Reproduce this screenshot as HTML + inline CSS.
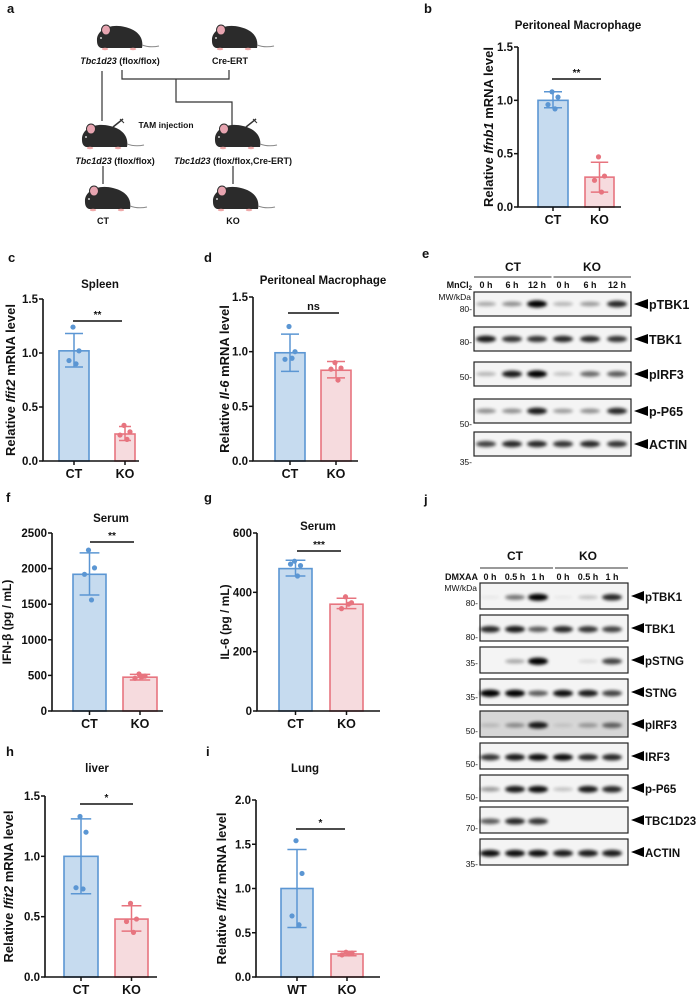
<!DOCTYPE html>
<html><head><meta charset="utf-8">
<style>
html,body{margin:0;padding:0;background:#fff;}
svg{display:block;font-family:"Liberation Sans",Arial,sans-serif;}
text{font-weight:bold;fill:#111;}
</style></head>
<body>
<svg id="fig" width="698" height="999" viewBox="0 0 698 999" xmlns="http://www.w3.org/2000/svg">
<defs>
<filter id="blur" x="-50%" y="-100%" width="200%" height="300%"><feGaussianBlur stdDeviation="1.6"/></filter>
<g id="mouse">
<path d="M2,15 C1,4 15,-3 30,1 C43,4 49,12 47,22 L6,22 C3,21 2,18 2,15Z" fill="#2b2b2b"/>
<ellipse cx="11" cy="4" rx="4.5" ry="5" fill="#e7a4b0" stroke="#2b2b2b" stroke-width="1"/>
<circle cx="6" cy="12" r="0.9" fill="#fff"/>
<path d="M47,19 Q55,22 64,20" stroke="#888" stroke-width="1" fill="none"/>
<ellipse cx="10" cy="23" rx="3.2" ry="1.3" fill="#eaa"/>
<ellipse cx="38" cy="23" rx="3.2" ry="1.3" fill="#eaa"/>
</g>
<g id="syringe"><line x1="0" y1="8" x2="10" y2="0" stroke="#333" stroke-width="1.5"/><line x1="7" y1="0" x2="11" y2="4" stroke="#333" stroke-width="1"/></g>
</defs>

<g>
<text x="7" y="13" font-size="13">a</text>
<use href="#mouse" x="95" y="26"/>
<use href="#mouse" x="210" y="26"/>
<text x="120" y="64" font-size="9" text-anchor="middle"><tspan font-style="italic">Tbc1d23</tspan> (flox/flox)</text>
<text x="230" y="64" font-size="9" text-anchor="middle">Cre-ERT</text>
<g stroke="#333" stroke-width="1.2" fill="none">
<path d="M102,71 V121"/>
<path d="M122,70 V79 H229 V70"/>
<path d="M176,79 V102 H232 V128"/>
<path d="M103,166 V184"/>
<path d="M233,166 V184"/>
</g>
<use href="#mouse" x="80" y="125"/>
<use href="#mouse" x="213" y="125"/>
<use href="#syringe" x="113" y="119"/>
<use href="#syringe" x="246" y="119"/>
<text x="166" y="128" font-size="8.5" text-anchor="middle">TAM injection</text>
<text x="115" y="164" font-size="9" text-anchor="middle"><tspan font-style="italic">Tbc1d23</tspan> (flox/flox)</text>
<text x="233" y="164" font-size="9" text-anchor="middle"><tspan font-style="italic">Tbc1d23</tspan> (flox/flox,Cre-ERT)</text>
<use href="#mouse" x="83" y="187"/>
<use href="#mouse" x="211" y="187"/>
<text x="103" y="224" font-size="9" text-anchor="middle">CT</text>
<text x="233" y="224" font-size="9" text-anchor="middle">KO</text>
</g>

<text x="424" y="13" font-size="13">b</text>
<text x="8" y="262" font-size="13">c</text>
<text x="204" y="262" font-size="13">d</text>
<text x="422" y="258" font-size="13">e</text>
<text x="6" y="502" font-size="13">f</text>
<text x="204" y="502" font-size="13">g</text>
<text x="6" y="756" font-size="13">h</text>
<text x="206" y="756" font-size="13">i</text>
<text x="424" y="504" font-size="13">j</text>
</svg>

<script>
const cats_b = ["CT","KO"];
const means_b = [1.00, 0.28];
const errHi_b = [1.08, 0.42];
const errLo_b = [0.93, 0.14];
const pts_b = [[1.08,1.03,0.96,0.92],[0.47,0.29,0.25,0.14]];
const ticks_b = [0,0.5,1.0,1.5];

const cats_c = ["CT","KO"];
const means_c = [1.02, 0.25];
const errHi_c = [1.18, 0.32];
const errLo_c = [0.87, 0.19];
const pts_c = [[1.24,1.02,0.93,0.90],[0.33,0.27,0.24,0.20]];
const ticks_c = [0,0.5,1.0,1.5];

const cats_d = ["CT","KO"];
const means_d = [0.99, 0.83];
const errHi_d = [1.16, 0.91];
const errLo_d = [0.82, 0.76];
const pts_d = [[1.23,1.00,0.93,0.94],[0.90,0.85,0.84,0.74]];
const ticks_d = [0,0.5,1.0,1.5];

const cats_f = ["CT","KO"];
const means_f = [1920, 475];
const errHi_f = [2220, 515];
const errLo_f = [1630, 435];
const pts_f = [[2260,2010,1920,1560],[520,490,460,480]];
const ticks_f = [0,500,1000,1500,2000,2500];

const cats_g = ["CT","KO"];
const means_g = [480, 360];
const errHi_g = [508, 380];
const errLo_g = [455, 345];
const pts_g = [[505,490,495,455],[385,365,345,360]];
const ticks_g = [0,200,400,600];

const cats_h = ["CT","KO"];
const means_h = [1.00, 0.48];
const errHi_h = [1.31, 0.59];
const errLo_h = [0.69, 0.38];
const pts_h = [[1.33,1.20,0.74,0.73],[0.61,0.48,0.46,0.37]];
const ticks_h = [0,0.5,1.0,1.5];

const cats_i = ["WT","KO"];
const means_i = [1.00, 0.26];
const errHi_i = [1.44, 0.29];
const errLo_i = [0.56, 0.24];
const pts_i = [[1.54,1.17,0.69,0.59],[0.28,0.27,0.25,0.26]];
const ticks_i = [0,0.5,1.0,1.5,2.0];

const lanes_e = ["0 h","6 h","12 h","0 h","6 h","12 h"];
const blotNames_e = ["pTBK1","TBK1","pIRF3","p-P65","ACTIN"];
const mw_e = ["80","80","50","50","35"];
const band_e_pTBK1 = [0.3,0.4,0.95,0.25,0.35,0.8];
const band_e_TBK1 = [0.85,0.75,0.75,0.8,0.8,0.75];
const band_e_pIRF3 = [0.25,0.85,0.95,0.2,0.55,0.6];
const band_e_pP65 = [0.4,0.4,0.85,0.35,0.4,0.8];
const band_e_ACTIN = [0.7,0.8,0.8,0.75,0.8,0.75];

const lanes_j = ["0 h","0.5 h","1 h","0 h","0.5 h","1 h"];
const blotNames_j = ["pTBK1","TBK1","pSTNG","STNG","pIRF3","IRF3","p-P65","TBC1D23","ACTIN"];
const mw_j = ["80","80","35","35","50","50","50","70","35"];
const band_j_pTBK1 = [0.05,0.5,0.95,0.05,0.2,0.8];
const band_j_TBK1 = [0.8,0.85,0.6,0.8,0.75,0.7];
const band_j_pSTNG = [0,0.3,1.0,0,0.1,0.7];
const band_j_STNG = [1.0,0.95,0.6,0.9,0.85,0.7];
const band_j_pIRF3 = [0.15,0.35,0.85,0.1,0.3,0.55];
const band_j_IRF3 = [0.75,0.85,0.9,0.9,0.8,0.8];
const band_j_pP65 = [0.35,0.85,0.9,0.2,0.85,0.8];
const band_j_TBC1D23 = [0.6,0.8,0.75,0,0,0];
const band_j_ACTIN = [0.9,0.9,0.9,0.85,0.85,0.85];

const NS = "http://www.w3.org/2000/svg";
const svg = document.getElementById("fig");
function mk(tag, attrs, parent){
  const e = document.createElementNS(NS, tag);
  for (const k in attrs) e.setAttribute(k, attrs[k]);
  (parent||svg).appendChild(e);
  return e;
}
const STROKE = ["#5b96d3","#e7747f"];
const FILL = ["#c6dbef","#f6dbde"];

function barChart(id, L, cats, means, errHi, errLo, pts, ticks){
  const g = mk("g", {});
  
  
  const yMax = ticks[ticks.length-1];
  const y = v => L.y0 - (v / yMax) * (L.y0 - L.yTop);
  const x = i => L.bars[i][0] + (L.bars[i][1]-L.bars[i][0])/2;
  means.forEach((m,i)=>{
    const r = mk("rect",{x:L.bars[i][0], y:y(m), width:L.bars[i][1]-L.bars[i][0], height:L.y0-y(m), fill:FILL[i], stroke:STROKE[i], "stroke-width":1.6}, g);
    
    
    const cx = x(i), w = (L.bars[i][1]-L.bars[i][0])*0.3;
    const eb = mk("path",{d:`M${cx},${y(errLo[i])}V${y(errHi[i])}M${cx-w},${y(errHi[i])}H${cx+w}M${cx-w},${y(errLo[i])}H${cx+w}`, stroke:STROKE[i], "stroke-width":1.5, fill:"none"}, g);
    
    
    const offs = [-1,5,-5,2];
    pts[i].forEach((p,k)=>{
      const c = mk("circle",{cx:cx+offs[k], cy:y(p), r:2.6, fill:STROKE[i]}, g);
      
      
    });
    const t = mk("text",{x:cx, y:L.y0+17, "font-size":12.5, "text-anchor":"middle"}, g);
    t.textContent = cats[i];
    
    
    mk("line",{x1:cx,x2:cx,y1:L.y0,y2:L.y0+4,stroke:"#111","stroke-width":1.5}, g);
  });
  const ax = mk("path",{d:`M${L.x0},${L.yTop}V${L.y0}H${L.xEnd}`, stroke:"#111","stroke-width":1.6, fill:"none"}, g);
  
  
  ticks.forEach(v=>{
    mk("line",{x1:L.x0-4,x2:L.x0,y1:y(v),y2:y(v),stroke:"#111","stroke-width":1.5}, g);
    const t = mk("text",{x:L.x0-5, y:y(v)+4, "font-size":11.5, "text-anchor":"end"}, g);
    t.textContent = L.fmt(v);
    
    
  });
  const tt = mk("text",{x:L.titleX, y:L.titleY, "font-size":11.5, "text-anchor":"middle"}, g);
  tt.textContent = L.title;
  
  
  const yl = mk("text",{x:0,y:0,"font-size":L.ylSize||13,"text-anchor":"middle",transform:`translate(${L.ylX},${(L.yTop+L.y0)/2}) rotate(-90)`}, g);
  yl.innerHTML = L.ylabel;
  
  
  mk("line",{x1:L.sig[0],x2:L.sig[1],y1:L.sig[2],y2:L.sig[2],stroke:"#111","stroke-width":1.5}, g);
  const st = mk("text",{x:(L.sig[0]+L.sig[1])/2, y:L.sig[2]-3, "font-size":L.sigText==="ns"?11:10, "text-anchor":"middle"}, g);
  st.textContent = L.sigText;
  
  
}
const f1 = v => v.toFixed(1), f0 = v => String(v);
const mrna = g => `Relative <tspan font-style="italic">${g}</tspan> mRNA level`;

barChart("b",{x0:518,yTop:47,y0:207,xEnd:621,bars:[[538,568],[585,614]],fmt:f1,title:"Peritoneal Macrophage",titleX:578,titleY:29,ylabel:mrna("Ifnb1"),ylX:493,sig:[552,601,79],sigText:"**"},cats_b,means_b,errHi_b,errLo_b,pts_b,ticks_b);
barChart("c",{x0:43,yTop:299,y0:461,xEnd:139,bars:[[59,89],[115,135]],fmt:f1,title:"Spleen",titleX:100,titleY:288,ylabel:mrna("Ifit2"),ylX:15,sig:[73,122,321],sigText:"**"},cats_c,means_c,errHi_c,errLo_c,pts_c,ticks_c);
barChart("d",{x0:253,yTop:297,y0:461,xEnd:358,bars:[[275,305],[321,351]],fmt:f1,title:"Peritoneal Macrophage",titleX:323,titleY:284,ylabel:mrna("Il-6"),ylX:229,sig:[288,339,313],sigText:"ns"},cats_d,means_d,errHi_d,errLo_d,pts_d,ticks_d);
barChart("f",{x0:52,yTop:533,y0:711,xEnd:163,bars:[[73,106],[123,157]],fmt:f0,title:"Serum",titleX:111,titleY:522,ylabel:"IFN-β (pg / mL)",ylX:11,ylSize:12,sig:[90,134,542],sigText:"**"},cats_f,means_f,errHi_f,errLo_f,pts_f,ticks_f);
barChart("g",{x0:257,yTop:533,y0:711,xEnd:380,bars:[[279,312],[330,363]],fmt:f0,title:"Serum",titleX:318,titleY:530,ylabel:"IL-6 (pg / mL)",ylX:229,ylSize:12,sig:[297,341,551],sigText:"***"},cats_g,means_g,errHi_g,errLo_g,pts_g,ticks_g);
barChart("h",{x0:45,yTop:796,y0:977,xEnd:157,bars:[[64,98],[115,148]],fmt:f1,title:"liver",titleX:97,titleY:772,ylabel:mrna("Ifit2"),ylX:13,sig:[80,133,804],sigText:"*"},cats_h,means_h,errHi_h,errLo_h,pts_h,ticks_h);
barChart("i",{x0:256,yTop:800,y0:977,xEnd:380,bars:[[281,313],[331,363]],fmt:f1,title:"Lung",titleX:305,titleY:772,ylabel:mrna("Ifit2"),ylX:226,sig:[296,345,829],sigText:"*"},cats_i,means_i,errHi_i,errLo_i,pts_i,ticks_i);

function blot(id, B, lanes, names, mws, bands){
  const g = mk("g",{});
  
  
  [["CT",B.ctX],["KO",B.koX]].forEach(([s,cx])=>{
    const t = mk("text",{x:cx,y:B.hdrY,"font-size":12,"text-anchor":"middle"},g);
    t.textContent = s;
    
    
  });
  mk("line",{x1:B.x0,x2:(B.x0+B.x1)/2-1,y1:B.lineY,y2:B.lineY,stroke:"#333","stroke-width":1},g);
  mk("line",{x1:(B.x0+B.x1)/2+1,x2:B.x1,y1:B.lineY,y2:B.lineY,stroke:"#333","stroke-width":1},g);
  const tr = mk("text",{x:B.x0-2,y:B.laneY,"font-size":9,"text-anchor":"end"},g);
  tr.innerHTML = B.treat;
  
  
  lanes.forEach((l,i)=>{
    const t = mk("text",{x:B.laneX[i],y:B.laneY,"font-size":9,"text-anchor":"middle"},g);
    t.textContent = l;
    
    
  });
  const mwt = mk("text",{x:B.x0-3,y:B.rows[0]+8,"font-size":8.5,"text-anchor":"end",style:"font-weight:normal"},g);
  mwt.textContent = "MW/kDa";
  
  
  names.forEach((n,r)=>{
    const top = B.rows[r];
    const box = mk("rect",{x:B.x0,y:top,width:B.x1-B.x0,height:B.h,fill:(id==="j"&&n==="pIRF3")?"#d6d6d6":"#f4f4f4",stroke:"#222","stroke-width":1.2},g);
    
    
    bands[r].forEach((v,i)=>{
      if (v<=0) return;
      mk("ellipse",{cx:B.laneX[i],cy:top+B.h*B.bandPos,rx:10,ry:1.5+2.2*v,fill:"#000",opacity:Math.min(1,v*1.05),filter:"url(#blur)"},g);
    });
    mk("path",{d:`M${B.x1+3},${top+B.h/2}l${B.arrW},-5v10z`,fill:"#000"},g);
    const lt = mk("text",{x:B.x1+B.arrW+4,y:top+B.h/2+5,"font-size":B.fs,"text-anchor":"start"},g);
    lt.textContent = n;
    
    
    const mt = mk("text",{x:B.x0-2,y:top+B.mwOff[r],"font-size":8.5,"text-anchor":"end",style:"font-weight:normal"},g);
    mt.textContent = mws[r]+"-";
    
    
  });
}
blot("e",{x0:474,x1:631,ctX:513,koX:592,hdrY:271,lineY:277,laneY:288,treat:"MnCl<tspan font-size='6' dy='2'>2</tspan>",
  laneX:[486,512,537,563,590,617],rows:[292,327,362,399,432],h:24,bandPos:0.5,mwOff:[20,18,18,28,33],arrW:14,fs:12.5},
  lanes_e,blotNames_e,mw_e,[band_e_pTBK1,band_e_TBK1,band_e_pIRF3,band_e_pP65,band_e_ACTIN]);
blot("j",{x0:480,x1:628,ctX:515,koX:588,hdrY:560,lineY:568,laneY:580,treat:"DMXAA",
  laneX:[490,515,538,563,588,612],rows:[583,615,647,679,711,743,775,807,839],h:26,bandPos:0.55,mwOff:[23,25,19,21,23,24,25,24,28],arrW:13,fs:11.5},
  lanes_j,blotNames_j,mw_j,[band_j_pTBK1,band_j_TBK1,band_j_pSTNG,band_j_STNG,band_j_pIRF3,band_j_IRF3,band_j_pP65,band_j_TBC1D23,band_j_ACTIN]);
</script>
</body></html>
